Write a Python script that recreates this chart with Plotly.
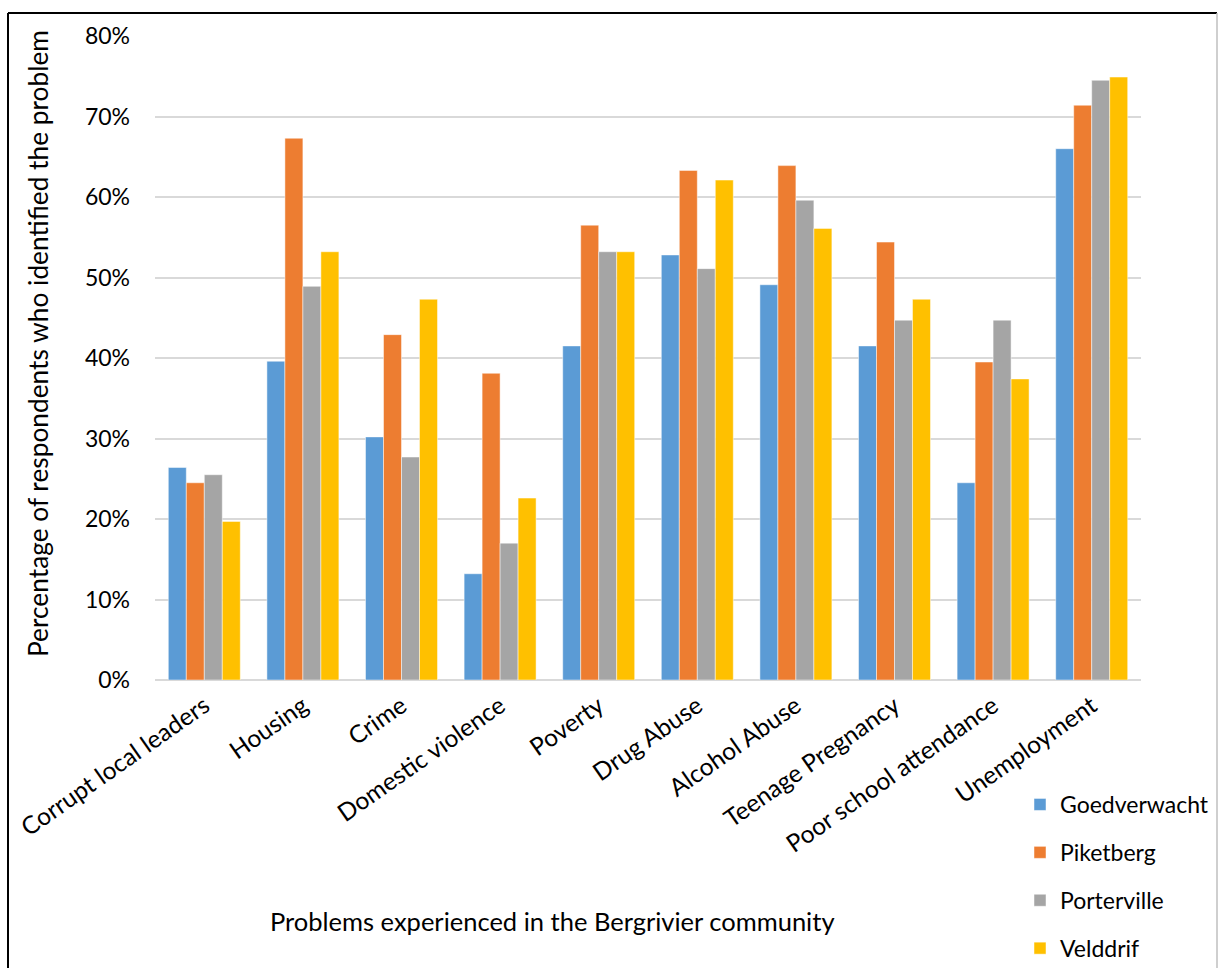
import plotly.graph_objects as go

categories = [
    "Corrupt local leaders", "Housing", "Crime", "Domestic violence", "Poverty",
    "Drug Abuse", "Alcohol Abuse", "Teenage Pregnancy", "Poor school attendance",
    "Unemployment",
]
goedverwacht = [26.4, 39.6, 30.2, 13.2, 41.5, 52.8, 49.1, 41.5, 24.5, 66.0]
piketberg = [24.5, 67.3, 42.9, 38.1, 56.5, 63.3, 63.9, 54.4, 39.5, 71.4]
porterville = [25.5, 48.9, 27.7, 17.0, 53.2, 51.1, 59.6, 44.7, 44.7, 74.5]
velddrif = [19.7, 53.2, 47.3, 22.6, 53.2, 62.1, 56.1, 47.3, 37.4, 74.9]

series = [
    ("Goedverwacht", goedverwacht, "#5B9BD5"),
    ("Piketberg", piketberg, "#ED7D31"),
    ("Porterville", porterville, "#A5A5A5"),
    ("Velddrif", velddrif, "#FFC000"),
]

y_ticks = [0, 10, 20, 30, 40, 50, 60, 70, 80]
y_tick_labels = [f"{v}%" for v in y_ticks]

FONT = "Lato, Carlito, Calibri, sans-serif"

W, H = 1218, 968
L, R, T, B = 155, 77, 36, 288
pw, ph = W - L - R, H - T - B


def px_x(x):
    return (x - L) / pw


def px_y(y):
    return (H - B - y) / ph


fig = go.Figure()
for name, vals, color in series:
    fig.add_trace(go.Bar(
        x=categories, y=vals, name=name, legendgroup=name,
        marker=dict(color=color, line=dict(color="rgba(255,255,255,0.6)", width=0.8)),
    ))

fig.update_layout(
    width=W, height=H,
    margin=dict(l=L, r=R, t=T, b=B, autoexpand=False),
    paper_bgcolor="white", plot_bgcolor="white",
    barmode="group", bargap=0.27, bargroupgap=0,
    font=dict(family=FONT, size=23, color="#000000"),
    xaxis=dict(
        tickangle=-35, showgrid=False, showline=False, ticks="",
        tickfont=dict(size=24.5), automargin=False, ticklabelstandoff=6,
    ),
    yaxis=dict(
        range=[0, 80], tickvals=y_ticks, ticktext=y_tick_labels,
        showgrid=True, gridcolor="#D9D9D9", gridwidth=1.5,
        zeroline=True, zerolinecolor="#D9D9D9", zerolinewidth=1.5,
        showline=False, ticks="", ticklabelstandoff=24,
        tickfont=dict(size=23), automargin=False,
    ),
    legend=dict(
        x=px_x(1020), y=px_y(783), xanchor="left", yanchor="top",
        orientation="v", traceorder="grouped", tracegroupgap=15,
        font=dict(size=23), itemwidth=30, bgcolor="rgba(0,0,0,0)",
    ),
    annotations=[
        dict(text="Problems experienced in the Bergrivier community",
             x=px_x(552), y=px_y(921), xref="paper", yref="paper",
             showarrow=False, font=dict(size=25.5), xanchor="center", yanchor="middle"),
        dict(text="Percentage of respondents who identified the problem",
             x=px_x(38), y=px_y(344), xref="paper", yref="paper", textangle=-90,
             showarrow=False, font=dict(size=26.3), xanchor="center", yanchor="middle"),
    ],
    shapes=[
        dict(type="line", xref="paper", yref="paper",
             x0=px_x(8), x1=px_x(1217), y0=px_y(13), y1=px_y(13),
             line=dict(color="black", width=2)),
        dict(type="line", xref="paper", yref="paper",
             x0=px_x(8), x1=px_x(8), y0=px_y(13), y1=px_y(975),
             line=dict(color="black", width=2)),
        dict(type="line", xref="paper", yref="paper",
             x0=px_x(1217), x1=px_x(1217), y0=px_y(13), y1=px_y(975),
             line=dict(color="#BFBFBF", width=1.5)),
    ],
)

fig.write_html("out.html")
